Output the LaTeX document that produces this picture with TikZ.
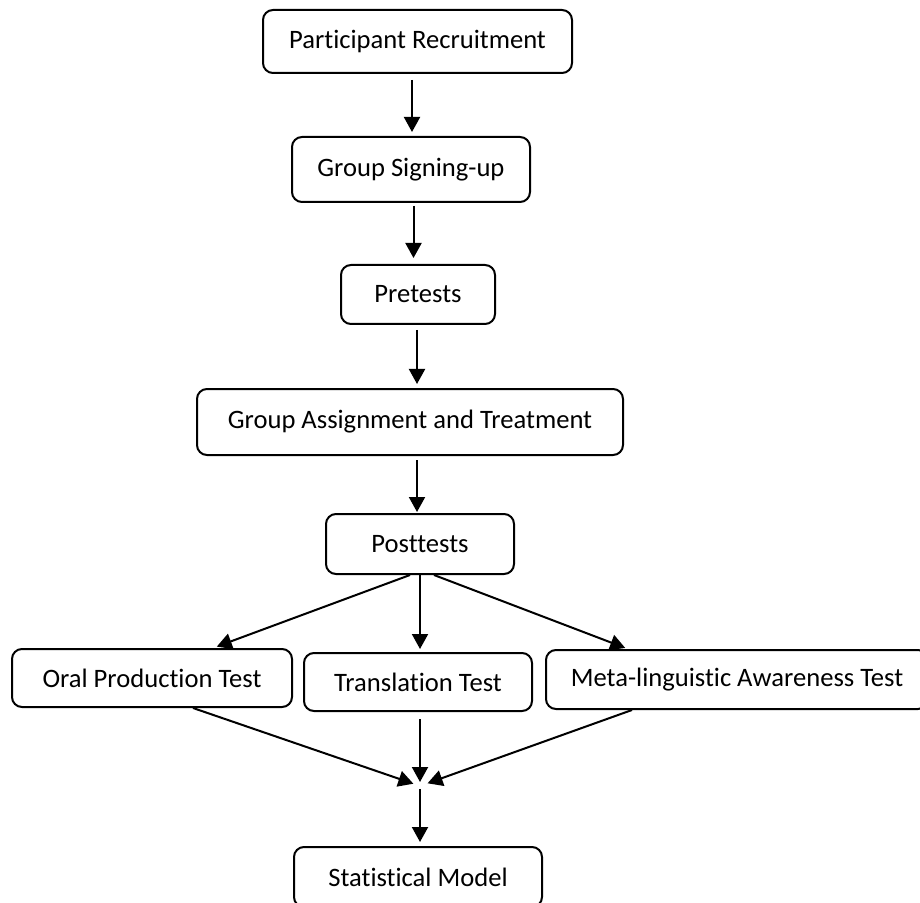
\documentclass[tikz,border=0pt]{standalone}
\usepackage{fontspec}
\setmainfont{Carlito}[Ligatures=NoCommon]
\usetikzlibrary{arrows.meta}
\begin{document}
\begin{tikzpicture}[x=0.5pt,y=-0.5pt,
  box/.style={draw=black, line width=1pt, rounded corners=5pt, inner sep=0pt,
    align=center, font=\fontsize{13.3}{16}\selectfont, fill=white},
  arr/.style={line width=1pt, -{Triangle[length=7.5pt,width=8pt]}}]
\clip (0,0) rectangle (920,903);
\fill[white] (0,0) rectangle (920,903);
\node[box, minimum width=154.5pt, minimum height=31.5pt] (rec) at (417.5,41.5) {Participant Recruitment};
\node[box, minimum width=119pt, minimum height=32.5pt] (sign) at (411,169.5) {Group Signing-up};
\node[box, minimum width=77pt, minimum height=29.5pt] (pre) at (418,294.5) {Pretests};
\node[box, minimum width=213pt, minimum height=33pt] (assign) at (410,422) {Group Assignment and Treatment};
\node[box, minimum width=94pt, minimum height=30pt] (post) at (420,544) {Posttests};
\node[box, minimum width=140pt, minimum height=29pt] (oral) at (152,678) {Oral Production Test};
\node[box, minimum width=114pt, minimum height=29pt] (trans) at (418,682) {Translation Test};
\node[box, minimum width=191pt, minimum height=29.5pt] (meta) at (737,679.5) {Meta-linguistic Awareness Test};
\node[box, minimum width=124pt, minimum height=30pt] (stat) at (418,877) {Statistical Model};
\coordinate (m) at (420,786);
% main chain
\draw[arr, shorten <=3pt, shorten >=2pt] ([xshift=-2.75pt]rec.south) -- ([xshift=0.5pt]sign.north);
\draw[arr, shorten <=1.5pt, shorten >=3pt] ([xshift=1.25pt]sign.south) -- ([xshift=-2.25pt]pre.north);
\draw[arr, shorten <=2.5pt, shorten >=2pt] ([xshift=-0.5pt]pre.south) -- ([xshift=3.5pt]assign.north);
\draw[arr, shorten <=2pt, shorten >=0.5pt] ([xshift=3.5pt]assign.south) -- ([xshift=-1.5pt]post.north);
% fan out
\draw[arr, shorten >=2pt] ([xshift=-5pt]post.south) -- ([xshift=30.5pt]oral.north);
\draw[arr, shorten >=1.5pt] (post.south) -- ([xshift=1pt]trans.north);
\draw[arr, shorten >=1.5pt] ([xshift=7pt]post.south) -- ([xshift=-54.5pt]meta.north);
% fan in
\draw[arr, shorten >=3.5pt] ([xshift=20.5pt]oral.south) -- (m);
\draw[arr, shorten <=3.5pt, shorten >=2pt] ([xshift=1pt]trans.south) -- (m);
\draw[arr, shorten >=4pt] ([xshift=-52.5pt]meta.south) -- (m);
\draw[arr, shorten <=1.5pt, shorten >=2pt] (m) -- ([xshift=1pt]stat.north);
\end{tikzpicture}
\end{document}
